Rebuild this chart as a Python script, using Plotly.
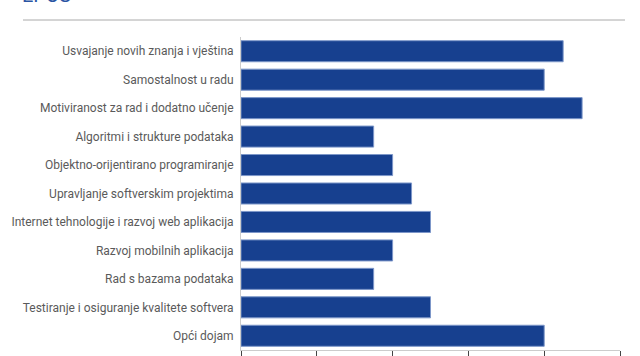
import plotly.graph_objects as go

categories = [
    "Usvajanje novih znanja i vještina",
    "Samostalnost u radu",
    "Motiviranost za rad i dodatno učenje",
    "Algoritmi i strukture podataka",
    "Objektno-orijentirano programiranje",
    "Upravljanje softverskim projektima",
    "Internet tehnologije i razvoj web aplikacija",
    "Razvoj mobilnih aplikacija",
    "Rad s bazama podataka",
    "Testiranje i osiguranje kvalitete softvera",
    "Opći dojam",
]
values = [4.25, 4.0, 4.5, 1.75, 2.0, 2.25, 2.5, 2.0, 1.75, 2.5, 4.0]
x_ticks = [0, 1, 2, 3, 4, 5]
title_text = "EPUS"

W, H = 640, 356
ml, mr, mt, mb = 241, 20, 37, 6
pw = W - ml - mr
ph = H - mt - mb

def px(x):
    return (x - ml) / pw

def py(y):
    return (H - mb - y) / ph

fig = go.Figure(go.Bar(
    x=values, y=categories, orientation="h",
    marker=dict(color="#17408f", line=dict(color="#7d97c9", width=1)),
    hoverinfo="x+y",
))

fig.update_layout(
    width=W, height=H,
    margin=dict(l=ml, r=mr, t=mt, b=mb),
    paper_bgcolor="white", plot_bgcolor="white",
    bargap=0.26,
    showlegend=False,
    font=dict(family="Roboto", color="#5a5a5a", size=12),
    xaxis=dict(range=[0, 5], tickvals=x_ticks, showticklabels=False,
               ticks="outside", ticklen=8, tickcolor="#444444", tickwidth=1,
               showline=True, linecolor="#cccccc", linewidth=1,
               showgrid=False, zeroline=False, fixedrange=True,
               automargin=False),
    yaxis=dict(autorange="reversed", showline=True, linecolor="#cccccc",
               linewidth=1, ticks="", showgrid=False, ticklabelstandoff=4,
               tickfont=dict(family="Roboto", size=12, color="#5a5a5a"),
               fixedrange=True, automargin=False),
    shapes=[dict(type="line", xref="paper", yref="paper",
                 x0=px(23), x1=px(625), y0=py(20), y1=py(20),
                 line=dict(color="#aaaaaa", width=1))],
    annotations=[dict(text=title_text, xref="paper", yref="paper",
                      x=px(20), y=py(9), xanchor="left", yanchor="bottom",
                      showarrow=False,
                      font=dict(family="Roboto", size=20, color="#2a54a3"))],
)

fig.write_html("out.html", config={"displayModeBar": False},
               post_script="document.body.style.margin='0';document.body.style.overflow='hidden';")
